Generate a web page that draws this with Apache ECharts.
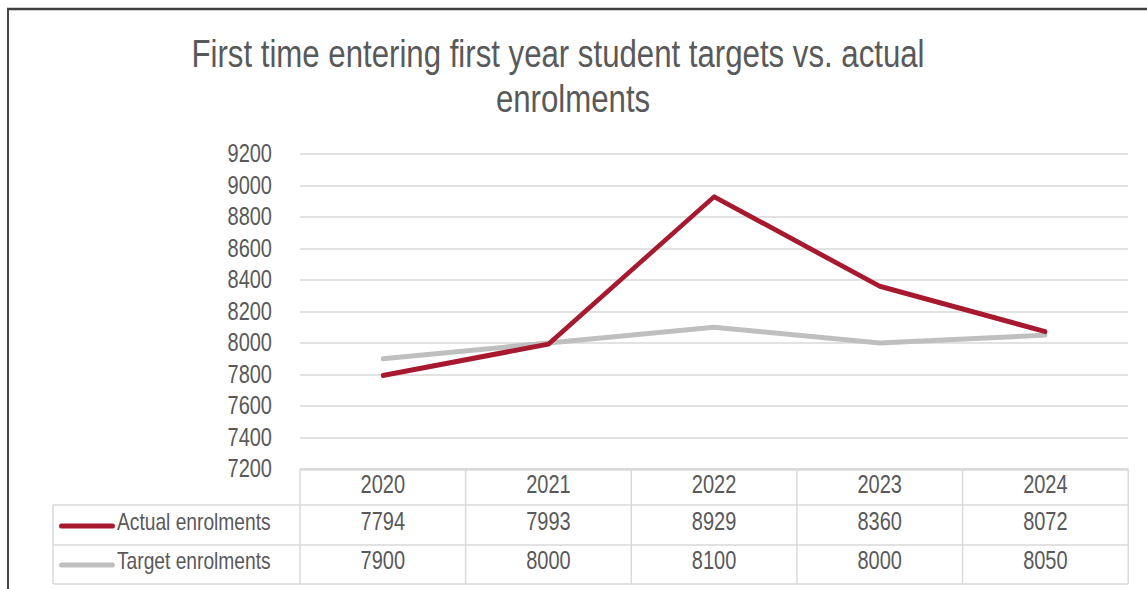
<!DOCTYPE html>
<html>
<head>
<meta charset="utf-8">
<script src="https://cdn.jsdelivr.net/npm/echarts@6/dist/echarts.min.js"></script>
<style>
  html, body { margin: 0; padding: 0; background: #ffffff; overflow: hidden; }
  /* the chart is laid out wider and squeezed horizontally to give the narrow type */
  #chart { width: 1434px; height: 589px; transform: scaleX(0.8); transform-origin: 0 0; }
</style>
</head>
<body>
<div id="chart"></div>
<script>
// Enrolment figures by intake year
const years = ['2020', '2021', '2022', '2023', '2024'];
const actualEnrolments = [7794, 7993, 8929, 8360, 8072];
const targetEnrolments = [7900, 8000, 8100, 8000, 8050];
const seriesNames = ['Actual enrolments', 'Target enrolments'];
const titleLines = ['First time entering first year student targets vs. actual', 'enrolments'];
const yMin = 7200;
const yMax = 9200;
const yStep = 200;

const SX = 0.8;                 // horizontal squeeze applied by CSS
const px = v => v / SX;         // on-screen x -> layout x
const FONT = '"Liberation Sans", Arial, sans-serif';
const TEXT = '#595959';
const RED = '#a6192e';
const GRAY = '#bfbfbf';
const RULE = '#d9d9d9';

const chart = echarts.init(document.getElementById('chart'), null, { renderer: 'svg' });

const base = {
  animation: false,
  backgroundColor: '#ffffff',
  textStyle: { fontFamily: FONT, color: TEXT },
  grid: { left: px(300), right: px(19), top: 154, bottom: 120, containLabel: false },
  xAxis: {
    type: 'category',
    data: years,
    boundaryGap: true,
    axisLine: { show: true, lineStyle: { color: RULE, width: 1.5 } },
    axisTick: { show: false },
    splitLine: { show: false },
    axisLabel: { color: TEXT, fontFamily: FONT, fontSize: 25, margin: 3 }
  },
  yAxis: {
    type: 'value',
    min: yMin,
    max: yMax,
    interval: yStep,
    axisLine: { show: false },
    axisTick: { show: false },
    splitLine: { lineStyle: { color: RULE, width: 1.5 } },
    axisLabel: { color: TEXT, fontFamily: FONT, fontSize: 25, margin: px(28), formatter: v => String(v) }
  },
  series: [
    {
      name: seriesNames[1],
      type: 'line',
      data: targetEnrolments,
      symbol: 'none',
      z: 2,
      lineStyle: { color: GRAY, width: 5, cap: 'round', join: 'round' }
    },
    {
      name: seriesNames[0],
      type: 'line',
      data: actualEnrolments,
      symbol: 'none',
      z: 3,
      lineStyle: { color: RED, width: 5, cap: 'round', join: 'round' }
    }
  ]
};

chart.setOption(base);

// Data table under the plot, aligned to the category bands of the x axis
const centers = years.map((_, i) => chart.convertToPixel({ xAxisIndex: 0 }, i));
const band = centers[1] - centers[0];
const tableLeft = centers[0] - band / 2;
const tableRight = centers[centers.length - 1] + band / 2;
const tableTop = chart.convertToPixel({ yAxisIndex: 0 }, yMin) + 1;
const legendLeft = px(53);
const rowLines = [tableTop + 35, tableTop + 75, tableTop + 114];
const rowCenters = [tableTop + 52, tableTop + 91];
const rowValues = [actualEnrolments, targetEnrolments];
const rowColors = [RED, GRAY];

const g = [];
const ruleStyle = { stroke: RULE, lineWidth: 1.5 };

// frame around the whole chart
g.push({ type: 'rect', shape: { x: px(8), y: 9, width: 1600, height: 700 },
  style: { fill: 'none', stroke: '#404040', lineWidth: 2.4 }, silent: true });

// title
g.push({ type: 'text', x: px(558), y: 53, style: { text: titleLines[0], font: '39px ' + FONT,
  fill: TEXT, align: 'center', verticalAlign: 'middle' } });
g.push({ type: 'text', x: px(573), y: 98, style: { text: titleLines[1], font: '39px ' + FONT,
  fill: TEXT, align: 'center', verticalAlign: 'middle' } });

// horizontal table rules
g.push({ type: 'line', shape: { x1: tableLeft, y1: tableTop, x2: tableRight, y2: tableTop }, style: ruleStyle });
rowLines.forEach(y => g.push({ type: 'line', shape: { x1: legendLeft, y1: y, x2: tableRight, y2: y }, style: ruleStyle }));

// vertical table rules
for (let i = 0; i <= years.length; i++) {
  const x = tableLeft + i * band;
  g.push({ type: 'line', shape: { x1: x, y1: tableTop, x2: x, y2: rowLines[2] },
    style: { stroke: RULE, lineWidth: 1.8 } });
}
g.push({ type: 'line', shape: { x1: legendLeft, y1: rowLines[0], x2: legendLeft, y2: rowLines[2] },
  style: { stroke: RULE, lineWidth: 1.8 } });

// row headers with legend swatches, and value cells
rowValues.forEach((vals, r) => {
  const cy = rowCenters[r];
  g.push({ type: 'line', shape: { x1: px(61), y1: cy + 4, x2: px(113), y2: cy + 4 },
    style: { stroke: rowColors[r], lineWidth: 5, lineCap: 'round' } });
  g.push({ type: 'text', x: px(117), y: cy, style: { text: seriesNames[r], font: '24px ' + FONT,
    fill: TEXT, align: 'left', verticalAlign: 'middle' } });
  vals.forEach((v, i) => {
    g.push({ type: 'text', x: centers[i], y: cy, style: { text: String(v), font: '25px ' + FONT,
      fill: TEXT, align: 'center', verticalAlign: 'middle' } });
  });
});

chart.setOption({ graphic: { elements: g } });
</script>
</body>
</html>
